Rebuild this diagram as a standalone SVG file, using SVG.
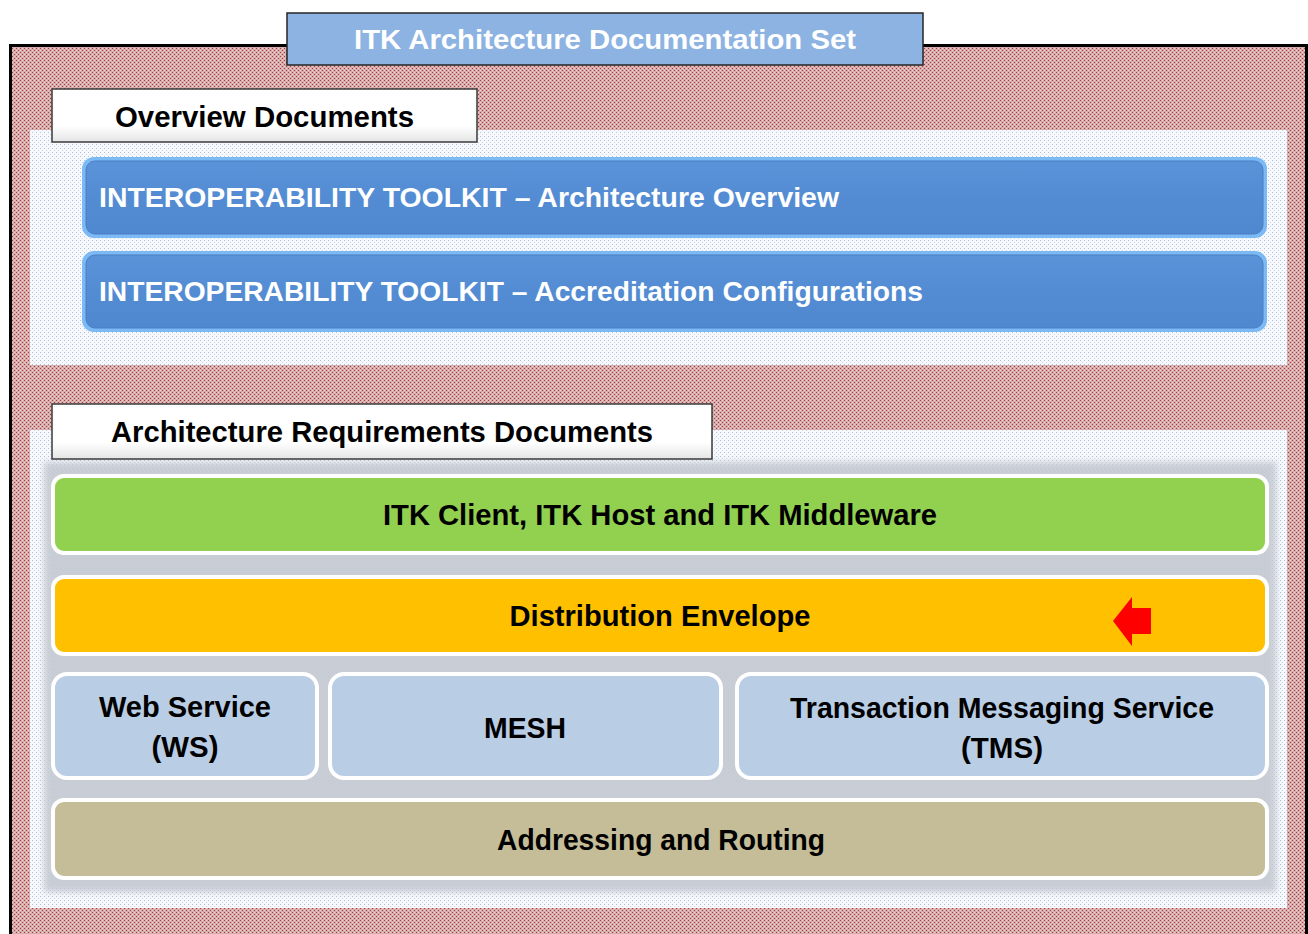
<svg xmlns="http://www.w3.org/2000/svg" width="1308" height="934" viewBox="0 0 1308 934">
<style>
.t{font-family:"Liberation Sans",Arial,sans-serif;font-weight:bold;}
.blk{fill:#000;}
.wht{fill:#fff;}
.bar{stroke:#fff;stroke-width:4;}
.lbl{fill:url(#lblGrad);stroke:#3a3a3a;stroke-width:1.5;}
</style>
<defs>
<pattern id="pink" width="4" height="4" patternUnits="userSpaceOnUse">
<rect width="4" height="4" fill="#d6acac"/>
<rect x="0" y="0" width="1" height="1" fill="#a83c3c"/>
<rect x="2" y="2" width="1" height="1" fill="#a83c3c"/>
<rect x="2" y="0" width="1" height="1" fill="#e6d0d0"/>
<rect x="0" y="2" width="1" height="1" fill="#e6d0d0"/>
</pattern>
<pattern id="blued" width="4" height="4" patternUnits="userSpaceOnUse">
<rect width="4" height="4" fill="#f7f9fc"/>
<rect x="0" y="0" width="1" height="1" fill="#a9bfdc"/>
<rect x="2" y="2" width="1" height="1" fill="#c9d6ea"/>
</pattern>
<pattern id="grayd" width="3" height="3" patternUnits="userSpaceOnUse">
<rect width="3" height="3" fill="#c8ccd3"/>
<rect x="0" y="0" width="1" height="1" fill="#7888a0"/>
<rect x="1" y="1" width="1" height="1" fill="#e8eaef"/>
</pattern>
<linearGradient id="lblGrad" x1="0" y1="0" x2="0" y2="1">
<stop offset="0" stop-color="#ffffff"/>
<stop offset="0.7" stop-color="#ffffff"/>
<stop offset="1" stop-color="#e4e4e4"/>
</linearGradient>
<linearGradient id="blueGrad" x1="0" y1="0" x2="0" y2="1">
<stop offset="0" stop-color="#5a93d8"/>
<stop offset="0.5" stop-color="#538cd3"/>
<stop offset="1" stop-color="#5088cf"/>
</linearGradient>
<filter id="soft" x="-5%" y="-20%" width="110%" height="140%">
<feGaussianBlur stdDeviation="3"/>
</filter>
</defs>

<g id="outer-frame">
<rect x="10.5" y="45.5" width="1296" height="900" fill="url(#pink)" stroke="#000" stroke-width="3"/>
</g>

<g id="title">
<rect x="287" y="13" width="636" height="52" fill="#8db3e2" stroke="#262626" stroke-width="1.5"/>
<text class="t wht" x="605" y="49" font-size="27" text-anchor="middle" textLength="502" lengthAdjust="spacingAndGlyphs">ITK Architecture Documentation Set</text>
</g>

<g id="overview-panel">
<rect x="30" y="130" width="1257" height="235" fill="url(#blued)"/>
</g>

<g id="overview-label">
<rect x="52" y="89" width="425" height="53" class="lbl"/>
<text class="t blk" x="115" y="127" font-size="29" textLength="299" lengthAdjust="spacingAndGlyphs">Overview Documents</text>
</g>

<g id="itk-arch-overview">
<rect x="82" y="157" width="1185" height="81" rx="12" fill="#7cbaf6"/>
<rect x="86" y="161" width="1177" height="73" rx="9" fill="url(#blueGrad)" stroke="#4a7fc4" stroke-width="1"/>
<text class="t wht" x="99" y="207" font-size="28" textLength="740" lengthAdjust="spacingAndGlyphs">INTEROPERABILITY TOOLKIT – Architecture Overview</text>
</g>

<g id="itk-accreditation">
<rect x="82" y="251" width="1185" height="81" rx="12" fill="#7cbaf6"/>
<rect x="86" y="255" width="1177" height="73" rx="9" fill="url(#blueGrad)" stroke="#4a7fc4" stroke-width="1"/>
<text class="t wht" x="99" y="301" font-size="28" textLength="824" lengthAdjust="spacingAndGlyphs">INTEROPERABILITY TOOLKIT – Accreditation Configurations</text>
</g>

<g id="requirements-panel">
<rect x="30" y="430" width="1257" height="478" fill="url(#blued)"/>
<rect x="44" y="462" width="1232" height="430" fill="url(#grayd)" opacity="0.9" filter="url(#soft)"/>
</g>

<g id="requirements-label">
<rect x="52" y="404" width="660" height="55" class="lbl"/>
<text class="t blk" x="111" y="442" font-size="29" textLength="542" lengthAdjust="spacingAndGlyphs">Architecture Requirements Documents</text>
</g>

<g id="itk-client-host">
<rect x="53" y="476" width="1214" height="77" rx="11" fill="#92d050" class="bar"/>
<text class="t blk" x="660" y="525" font-size="29" text-anchor="middle" textLength="554" lengthAdjust="spacingAndGlyphs">ITK Client, ITK Host and ITK Middleware</text>
</g>

<g id="distribution-envelope">
<rect x="53" y="577" width="1214" height="77" rx="11" fill="#ffc000" class="bar"/>
<text class="t blk" x="660" y="626" font-size="29" text-anchor="middle" textLength="301" lengthAdjust="spacingAndGlyphs">Distribution Envelope</text>
<polygon points="1113,621 1132,597 1132,608 1151,608 1151,634 1132,634 1132,646" fill="#ff0000"/>
</g>

<g id="web-service">
<rect x="53" y="674" width="264" height="104" rx="14" fill="#b9cde5" class="bar"/>
<text class="t blk" x="185" y="717" font-size="29" text-anchor="middle" textLength="172" lengthAdjust="spacingAndGlyphs">Web Service</text>
<text class="t blk" x="185" y="757" font-size="29" text-anchor="middle" textLength="67" lengthAdjust="spacingAndGlyphs">(WS)</text>
</g>

<g id="mesh">
<rect x="330" y="674" width="391" height="104" rx="14" fill="#b9cde5" class="bar"/>
<text class="t blk" x="525" y="738" font-size="29" text-anchor="middle" textLength="82" lengthAdjust="spacingAndGlyphs">MESH</text>
</g>

<g id="tms">
<rect x="737" y="674" width="530" height="104" rx="14" fill="#b9cde5" class="bar"/>
<text class="t blk" x="1002" y="718" font-size="29" text-anchor="middle" textLength="424" lengthAdjust="spacingAndGlyphs">Transaction Messaging Service</text>
<text class="t blk" x="1002" y="758" font-size="29" text-anchor="middle" textLength="82" lengthAdjust="spacingAndGlyphs">(TMS)</text>
</g>

<g id="addressing-routing">
<rect x="53" y="800" width="1214" height="78" rx="11" fill="#c4bd97" class="bar"/>
<text class="t blk" x="661" y="850" font-size="29" text-anchor="middle" textLength="328" lengthAdjust="spacingAndGlyphs">Addressing and Routing</text>
</g>

<g id="connectors"></g>
</svg>
